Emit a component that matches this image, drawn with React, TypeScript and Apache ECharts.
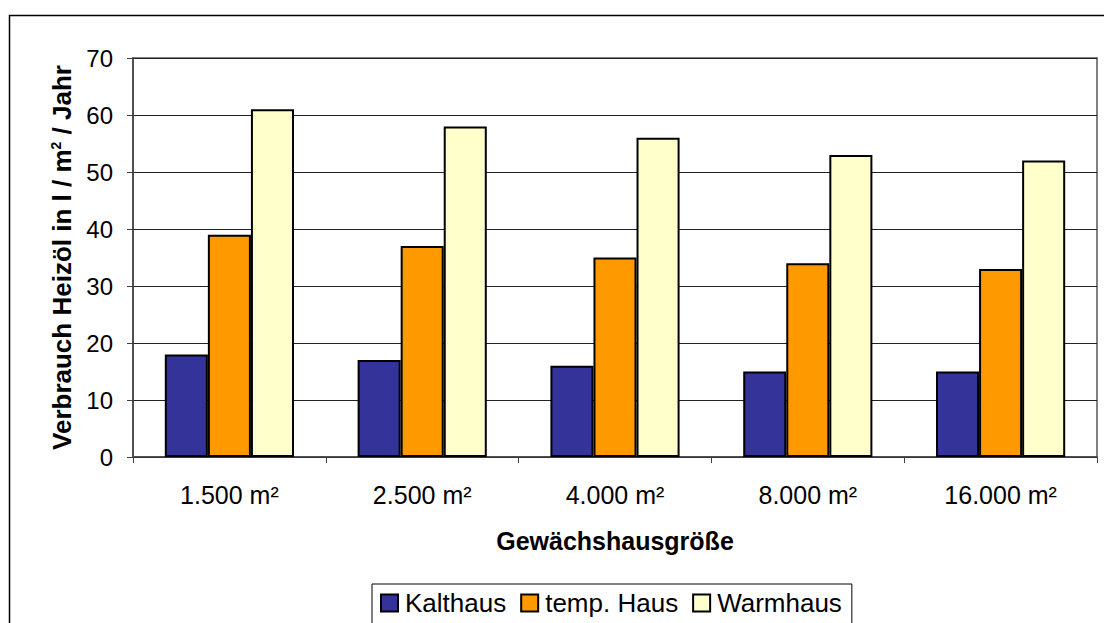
import React, { useEffect, useRef } from "react";
import * as echarts from "echarts";

const categories = ["1.500 m²", "2.500 m²", "4.000 m²", "8.000 m²", "16.000 m²"];
const kalthaus = [18, 17, 16, 15, 15];
const tempHaus = [39, 37, 35, 34, 33];
const warmhaus = [61, 58, 56, 53, 52];
const seriesNames = ["Kalthaus", "temp. Haus", "Warmhaus"];
const seriesColors = ["#333399", "#FF9900", "#FFFFCC"];

export default function App() {
  const ref = useRef<HTMLDivElement>(null);
  useEffect(() => {
    if (!ref.current) return;
    const chart = echarts.init(ref.current, null, { renderer: "svg" });
    const font = "Liberation Sans, Arial, sans-serif";
    const data = [kalthaus, tempHaus, warmhaus];
    chart.setOption({
      animation: false,
      backgroundColor: "#ffffff",
      textStyle: { fontFamily: font },
      graphic: [
        {
          type: "rect",
          shape: { x: 9.5, y: 15.5, width: 1120, height: 640 },
          style: { fill: "none", stroke: "#000", lineWidth: 1.5 },
          silent: true,
        },
      ],
      grid: {
        left: 133,
        top: 58,
        width: 964,
        height: 399,
        show: true,
        borderColor: "#808080",
        borderWidth: 2,
        backgroundColor: "transparent",
      },
      legend: {
        left: 372,
        top: 584,
        width: 485,
        padding: [6, 10, 20, 8],
        itemWidth: 17,
        itemHeight: 17,
        itemGap: 14,
        borderColor: "#000",
        borderWidth: 1,
        icon: "rect",
        textStyle: { fontSize: 26, color: "#000", fontFamily: font, padding: [0, 0, 0, 2] },
        data: seriesNames.map((n, i) => ({
          name: n,
          itemStyle: { color: seriesColors[i], borderColor: "#000", borderWidth: 2 },
        })),
      },
      xAxis: {
        type: "category",
        data: categories,
        name: "Gewächshausgröße",
        nameLocation: "middle",
        nameGap: 71,
        nameTextStyle: { fontSize: 25, fontWeight: "bold", color: "#000", fontFamily: font },
        axisLine: { lineStyle: { color: "#404040", width: 1.5 } },
        axisTick: { show: true, length: 6, lineStyle: { color: "#404040" } },
        axisLabel: { fontSize: 25, color: "#000", margin: 25, fontFamily: font },
        splitLine: { show: false },
      },
      yAxis: {
        type: "value",
        min: 0,
        max: 70,
        interval: 10,
        name: "{a|Verbrauch Heizöl in l / m}{s|2}{a| / Jahr}",
        nameLocation: "middle",
        nameGap: 54,
        nameRotate: 90,
        nameTextStyle: {
          rich: {
            a: { fontSize: 26, fontWeight: "bold", color: "#000", fontFamily: font },
            s: { fontSize: 14, fontWeight: "bold", color: "#000", fontFamily: font, verticalAlign: "top", padding: [0, 0, 10, 0] },
          },
        },
        axisLine: { show: true, lineStyle: { color: "#404040", width: 1.5 } },
        axisTick: { show: true, length: 6, lineStyle: { color: "#404040" } },
        axisLabel: { fontSize: 24, color: "#000", margin: 20, fontFamily: font },
        splitLine: { show: true, lineStyle: { color: "#222", width: 1 } },
      },
      series: seriesNames.map((n, i) => ({
        name: n,
        type: "bar",
        data: data[i],
        barGap: "0%",
        barCategoryGap: "33%",
        itemStyle: { color: seriesColors[i], borderColor: "#000", borderWidth: 2 },
      })),
    });
    return () => chart.dispose();
  }, []);
  return (
    <div
      ref={ref}
      style={{ position: "fixed", left: 0, top: 0, width: 1104, height: 623 }}
    />
  );
}
